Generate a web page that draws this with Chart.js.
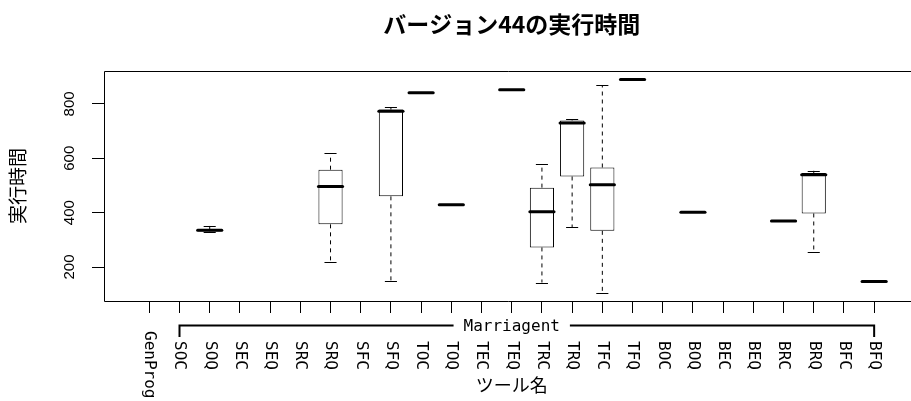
<!DOCTYPE html>
<html>
<head>
<meta charset="utf-8">
<script src="https://cdn.jsdelivr.net/npm/chart.js@4.4.1/dist/chart.umd.min.js"></script>
<style>
  html, body { margin: 0; padding: 0; background: #fff; overflow: hidden; }
  #wrap { position: relative; width: 911px; height: 401px; }
</style>
</head>
<body>
<div id="wrap"><canvas id="c"></canvas></div>
<script>
// ---- data ----
const categories = ['GenProg','SOC','SOQ','SEC','SEQ','SRC','SRQ','SFC','SFQ','TOC','TOQ','TEC','TEQ','TRC','TRQ','TFC','TFQ','BOC','BOQ','BEC','BEQ','BRC','BRQ','BFC','BFQ'];
const whiskerLow  = [null,null,330,null,null,null,218,null,147,841,429,null,852,143,346,106,890,null,401,null,null,369,257,null,147];
const quartile1   = [null,null,331,null,null,null,357,null,460,841,429,null,852,272,533,333,890,null,401,null,null,369,397,null,147];
const medians     = [null,null,335,null,null,null,496,null,773,841,429,null,852,403,730,503,890,null,401,null,null,369,539,null,147];
const quartile3   = [null,null,339,null,null,null,558,null,779,841,429,null,852,492,739,566,890,null,401,null,null,369,546,null,147];
const whiskerHigh = [null,null,351,null,null,null,618,null,788,841,429,null,852,580,744,868,890,null,401,null,null,369,554,null,147];
const yTicks = [200, 400, 600, 800];
const groupLabel = 'Marriagent';
const groupFrom = 1, groupTo = 24;
const titleText = 'バージョン44の実行時間';
const xTitle = 'ツール名';
const yTitle = '実行時間';

const boxData = [];
categories.forEach((c, i) => {
  if (quartile1[i] !== null) boxData.push({ x: i, y: [quartile1[i], quartile3[i]] });
});

const CJK = '"Noto Sans CJK JP", "Noto Sans CJK SC", sans-serif';
const MONO = '"DejaVu Sans Mono", "Liberation Mono", monospace';

const boxPlugin = {
  id: 'boxExtras',
  afterDatasetsDraw(chart) {
    const ctx = chart.ctx;
    const xs = chart.scales.x, ys = chart.scales.y;
    const step = xs.getPixelForValue(1) - xs.getPixelForValue(0);
    const half = step * 0.4;
    ctx.save();
    ctx.strokeStyle = '#000';
    for (let i = 0; i < categories.length; i++) {
      if (medians[i] === null) continue;
      const x = xs.getPixelForValue(i);
      const yq1 = ys.getPixelForValue(quartile1[i]);
      const yq3 = ys.getPixelForValue(quartile3[i]);
      const ylo = ys.getPixelForValue(whiskerLow[i]);
      const yhi = ys.getPixelForValue(whiskerHigh[i]);
      // whiskers (dashed)
      ctx.lineWidth = 1;
      ctx.setLineDash([4, 4]);
      ctx.beginPath();
      if (whiskerHigh[i] !== quartile3[i]) { ctx.moveTo(x, yq3); ctx.lineTo(x, yhi); }
      if (whiskerLow[i] !== quartile1[i]) { ctx.moveTo(x, yq1); ctx.lineTo(x, ylo); }
      ctx.stroke();
      ctx.setLineDash([]);
      // staples
      ctx.beginPath();
      ctx.moveTo(x - half / 2, Math.round(yhi) + 0.5); ctx.lineTo(x + half / 2, Math.round(yhi) + 0.5);
      ctx.moveTo(x - half / 2, Math.round(ylo) + 0.5); ctx.lineTo(x + half / 2, Math.round(ylo) + 0.5);
      ctx.stroke();
      // median
      const ym = ys.getPixelForValue(medians[i]);
      ctx.lineWidth = 3;
      ctx.lineCap = 'round';
      ctx.beginPath();
      ctx.moveTo(x - half, ym); ctx.lineTo(x + half, ym);
      ctx.stroke();
      ctx.lineCap = 'butt';
    }
    ctx.restore();
  },
  afterDraw(chart) {
    const ctx = chart.ctx;
    const xs = chart.scales.x, ys = chart.scales.y;
    const a = chart.chartArea;
    const center = xs.getPixelForValue((categories.length - 1) / 2);
    ctx.save();
    ctx.strokeStyle = '#000';
    ctx.fillStyle = '#000';
    // plot frame (right side falls outside the window)
    ctx.lineWidth = 1;
    ctx.beginPath();
    ctx.moveTo(a.right + 5, a.top + 0.5);
    ctx.lineTo(a.left + 0.5, a.top + 0.5);
    ctx.lineTo(a.left + 0.5, a.bottom + 0.5);
    ctx.lineTo(a.right + 5, a.bottom + 0.5);
    ctx.stroke();

    // title
    ctx.font = 'bold 23px ' + CJK;
    ctx.textAlign = 'center';
    ctx.textBaseline = 'middle';
    ctx.fillText(titleText, center, 24);

    // y tick labels (rotated)
    ctx.font = '15px "Liberation Sans", Arial, sans-serif';
    yTicks.forEach(v => {
      const y = ys.getPixelForValue(v);
      ctx.save();
      ctx.translate(74, y);
      ctx.rotate(-Math.PI / 2);
      ctx.textAlign = 'center';
      ctx.textBaseline = 'alphabetic';
      ctx.fillText(String(v), 0, 0);
      ctx.restore();
    });

    // y title
    ctx.save();
    ctx.font = '19px ' + CJK;
    ctx.translate(18, (a.top + a.bottom) / 2);
    ctx.rotate(-Math.PI / 2);
    ctx.textAlign = 'center';
    ctx.textBaseline = 'middle';
    ctx.fillText(yTitle, 0, 0);
    ctx.restore();

    // x category labels (rotated clockwise, reading downward)
    ctx.font = '16px ' + MONO;
    categories.forEach((c, i) => {
      const x = xs.getPixelForValue(i);
      const y0 = (i >= groupFrom && i <= groupTo) ? 341 : 331;
      ctx.save();
      ctx.translate(x, y0);
      ctx.rotate(Math.PI / 2);
      ctx.textAlign = 'left';
      ctx.textBaseline = 'middle';
      ctx.fillText(c, 0, 0);
      ctx.restore();
    });

    // group bracket
    const gy = 325.5;
    const tw = ctx.measureText(groupLabel).width;
    const x1 = xs.getPixelForValue(groupFrom), x2 = xs.getPixelForValue(groupTo);
    ctx.textAlign = 'center';
    ctx.textBaseline = 'middle';
    ctx.fillText(groupLabel, center, 327);
    ctx.lineWidth = 2;
    ctx.beginPath();
    ctx.moveTo(x1, 337); ctx.lineTo(x1, gy); ctx.lineTo(center - tw / 2 - 10, gy);
    ctx.moveTo(center + tw / 2 + 10, gy); ctx.lineTo(x2, gy); ctx.lineTo(x2, 337);
    ctx.stroke();

    // x title
    ctx.font = '18px ' + CJK;
    ctx.fillText(xTitle, center, 385);
    ctx.restore();
  }
};

new Chart(document.getElementById('c'), {
  type: 'bar',
  data: {
    datasets: [{
      data: boxData,
      backgroundColor: '#ffffff',
      borderColor: '#000000',
      borderWidth: 1,
      borderSkipped: false,
      inflateAmount: 0,
      barPercentage: 0.8,
      categoryPercentage: 1.0
    }]
  },
  options: {
    responsive: true,
    maintainAspectRatio: false,
    animation: false,
    devicePixelRatio: 1,
    layout: { padding: { left: 92, top: 71, bottom: 88, right: 0 } },
    plugins: { legend: { display: false }, tooltip: { enabled: false }, title: { display: false } },
    scales: {
      x: {
        type: 'linear',
        offset: false,
        min: -1.5,
        max: 25.22,
        afterBuildTicks: s => { s.ticks = categories.map((c, i) => ({ value: i })); },
        ticks: { display: false },
        grid: { offset: false, drawOnChartArea: false, drawTicks: true, tickLength: 12, color: '#000', lineWidth: 1 },
        border: { display: false }
      },
      y: {
        min: 75,
        max: 921,
        afterBuildTicks: s => { s.ticks = yTicks.map(v => ({ value: v })); },
        ticks: { display: false },
        grid: { drawOnChartArea: false, drawTicks: true, tickLength: 12, color: '#000', lineWidth: 1 },
        border: { display: false }
      }
    }
  },
  plugins: [boxPlugin]
});
</script>
</body>
</html>
